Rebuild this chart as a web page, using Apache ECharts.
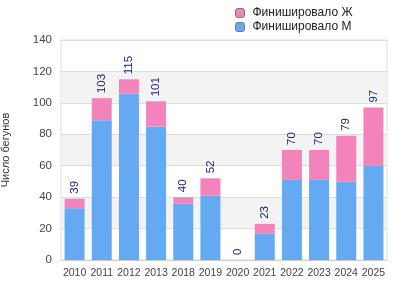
<!DOCTYPE html>
<html><head><meta charset="utf-8">
<script src="https://cdn.jsdelivr.net/npm/echarts@6/dist/echarts.min.js"></script>
<style>html,body{margin:0;padding:0;background:#fff}#c{width:396px;height:300px}</style>
</head><body><div id="c"></div>
<script>
var categories = ['2010','2011','2012','2013','2018','2019','2020','2021','2022','2023','2024','2025'];
var male = [33, 89, 106, 85, 36, 41, 0, 17, 51, 51, 50, 60];
var totals = [39, 103, 115, 101, 40, 52, 0, 23, 70, 70, 79, 97];
var female = totals.map(function(t, i){ return t - male[i]; });
var yTicks = [0, 20, 40, 60, 80, 100, 120, 140];
var FF = 'Liberation Sans, Arial, sans-serif';

var chart = echarts.init(document.getElementById('c'));
chart.setOption({
  animation: false,
  textStyle: { fontFamily: FF },
  legend: {
    orient: 'vertical', left: 230, top: 2, itemWidth: 9, itemHeight: 9, itemGap: 2,
    data: [
      { name: 'Финишировало Ж', itemStyle: { borderColor: '#777', borderWidth: 1 } },
      { name: 'Финишировало М', itemStyle: { borderColor: '#777', borderWidth: 1 } }
    ],
    textStyle: { fontSize: 12, color: '#222', fontFamily: FF, padding: [0, 0, 0, 3] }
  },
  grid: { left: 61, right: 9, top: 40, bottom: 40, show: true, borderColor: '#ddd', borderWidth: 1,
    outerBoundsMode: 'none', containLabel: false },
  xAxis: {
    type: 'category', data: categories,
    axisLine: { lineStyle: { color: '#ccc' } }, axisTick: { show: false },
    axisLabel: { color: '#444', fontSize: 10.5, interval: 0, margin: 8, fontFamily: FF }
  },
  yAxis: {
    type: 'value', min: yTicks[0], max: yTicks[yTicks.length-1], interval: 20,
    name: 'Число бегунов', nameLocation: 'middle', nameGap: 50,
    nameTextStyle: { color: '#333', fontSize: 11, fontFamily: FF },
    axisLine: { show: false }, axisTick: { show: false },
    axisLabel: { color: '#444', fontSize: 11.5, margin: 9, fontFamily: FF },
    splitLine: { lineStyle: { color: '#ddd' } },
    splitArea: { show: true, areaStyle: { color: ['rgba(0,0,0,0)', '#f3f3f3'] } }
  },
  series: [
    { name: 'Финишировало М', type: 'bar', stack: 's', data: male, barWidth: 20,
      itemStyle: { color: '#63aaf2' } },
    { name: 'Финишировало Ж', type: 'bar', stack: 's', data: female, barWidth: 20,
      itemStyle: { color: '#f283bb' },
      label: { show: true, position: 'top', rotate: 90, align: 'left', verticalAlign: 'middle', distance: 5,
        color: '#1c1c8a', fontSize: 11.5, fontFamily: FF,
        formatter: function(p){ return totals[p.dataIndex]; } } }
  ]
});
</script></body></html>
